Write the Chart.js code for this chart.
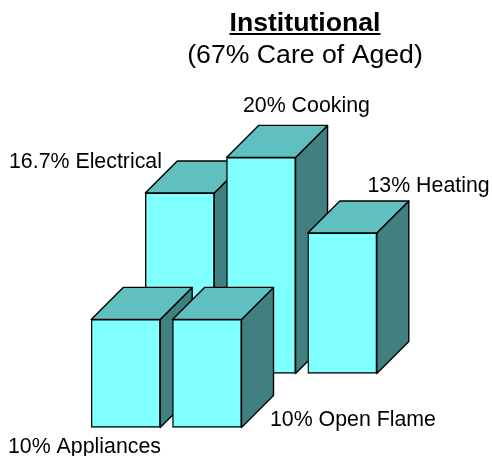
<!DOCTYPE html>
<html>
<head>
<meta charset="utf-8">
<style>html,body{margin:0;padding:0;background:#fff}canvas{display:block}</style>
<script src="https://cdn.jsdelivr.net/npm/chart.js@4"></script>
</head>
<body>
<canvas id="c" width="492" height="456"></canvas>
<script>
// Data
const frontCategories = ['Appliances', 'Open Flame'];
const frontValues = [10, 10];
const backCategories = ['Electrical', 'Cooking', 'Heating'];
const backValues = [16.7, 20, 13];
const titleText = 'Institutional';
const subtitleText = '(67% Care of Aged)';

// Layout and style
const W = 492, H = 456;
const depth = 32;
const barWidth = 69;
const frontPlace = {first: 125.7, step: 81.3};
const backPlace = {first: 179.8, step: 81.25};
const font = 'Arial, "Liberation Sans", sans-serif';
const colors = {front: '#80FFFF', top: '#60BFBF', side: '#408080', line: '#000'};
// Text anchor (left, baseline) for each row's labels
const frontLabelPos = [[8, 453], [270, 426]];
const backLabelPos = [[9, 168], [243, 112], [367.5, 192]];

const toPoints = values => values.map((v, i) => ({x: i, y: v}));

function face(ctx, pts, fill) {
  ctx.beginPath();
  pts.forEach((p, i) => i ? ctx.lineTo(p[0], p[1]) : ctx.moveTo(p[0], p[1]));
  ctx.closePath();
  ctx.fillStyle = fill;
  ctx.fill();
  ctx.lineWidth = 1.4;
  ctx.lineJoin = 'round';
  ctx.strokeStyle = colors.line;
  ctx.stroke();
}

const prism = {
  id: 'prism',
  beforeDatasetDraw(chart, args) {
    const ctx = chart.ctx;
    args.meta.data.forEach(bar => {
      const p = bar.getProps(['x', 'y', 'base', 'width'], true);
      const l = p.x - p.width / 2, r = p.x + p.width / 2;
      ctx.save();
      face(ctx, [[r, p.y], [r + depth, p.y - depth], [r + depth, p.base - depth], [r, p.base]], colors.side);
      face(ctx, [[l, p.y], [l + depth, p.y - depth], [r + depth, p.y - depth], [r, p.y]], colors.top);
      ctx.restore();
      bar.draw(ctx);
    });
    return false;
  },
  afterDraw(chart) {
    const ctx = chart.ctx;
    ctx.save();
    ctx.fillStyle = '#000';
    ctx.textBaseline = 'alphabetic';
    ctx.textAlign = 'center';
    ctx.font = 'bold 26.67px ' + font;
    ctx.fillText(titleText, 305, 31);
    const tw = ctx.measureText(titleText).width;
    ctx.fillRect(305 - tw / 2, 33, tw, 2);
    ctx.font = '26.67px ' + font;
    ctx.fillText(subtitleText, 305, 63);
    ctx.textAlign = 'left';
    ctx.font = '21.33px ' + font;
    frontCategories.forEach((n, i) => ctx.fillText(frontValues[i] + '% ' + n, frontLabelPos[i][0], frontLabelPos[i][1]));
    backCategories.forEach((n, i) => ctx.fillText(backValues[i] + '% ' + n, backLabelPos[i][0], backLabelPos[i][1]));
    ctx.restore();
  }
};

const pad = {left: 0, right: 0, top: 49.4, bottom: 28.6};
const span = W - pad.left - pad.right;
const barStyle = {
  barThickness: barWidth,
  grouped: false,
  backgroundColor: colors.front,
  borderColor: colors.line,
  borderWidth: 1.4,
  borderSkipped: false
};

new Chart(document.getElementById('c'), {
  type: 'bar',
  plugins: [prism],
  data: {
    datasets: [
      {label: 'Front row', data: toPoints(frontValues), xAxisID: 'xFront', yAxisID: 'yFront', ...barStyle},
      {label: 'Back row', data: toPoints(backValues), xAxisID: 'xBack', yAxisID: 'yBack', ...barStyle}
    ]
  },
  options: {
    responsive: false,
    animation: false,
    layout: {padding: pad},
    plugins: {legend: {display: false}, tooltip: {enabled: false}, title: {display: false}},
    scales: {
      xFront: {type: 'linear', offset: false, display: false, min: -frontPlace.first / frontPlace.step, max: (span - frontPlace.first) / frontPlace.step},
      xBack: {type: 'linear', offset: false, display: false, min: -backPlace.first / backPlace.step, max: (span - backPlace.first) / backPlace.step},
      yFront: {type: 'linear', display: false, min: 0, max: 35},
      yBack: {type: 'linear', display: false, min: -5, max: 30}
    }
  }
});
</script>
</body>
</html>
